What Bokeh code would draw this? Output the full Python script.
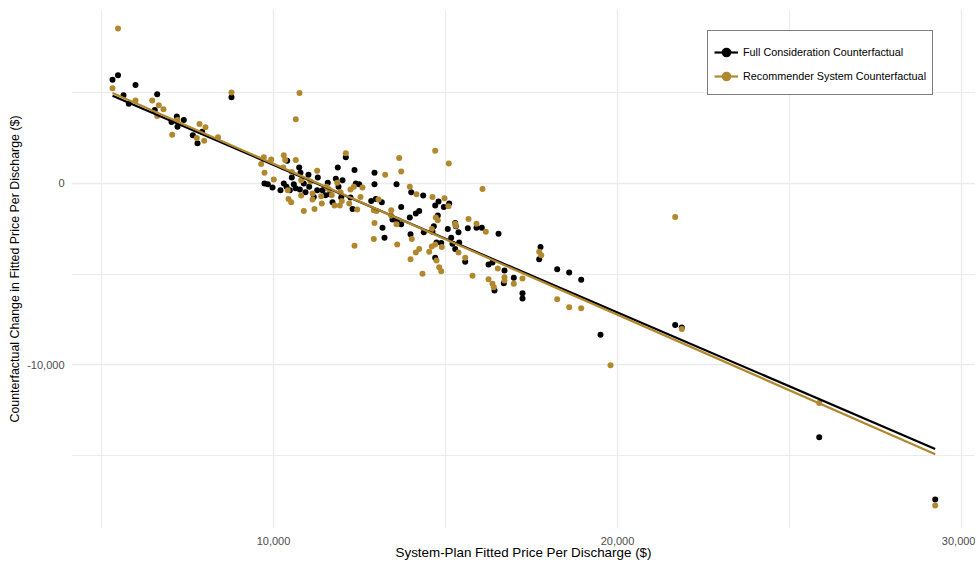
import numpy as np
from bokeh.plotting import figure
from bokeh.models import (ColumnDataSource, Range1d, FixedTicker, NumeralTickFormatter,
                          Legend, LegendItem)
from bokeh.embed import file_html
from bokeh.resources import INLINE

# ---------------- data ----------------
series_names = ["Full Consideration Counterfactual", "Recommender System Counterfactual"]
series_colors = ["#000000", "#B2882F"]

full_x = [5320, 5480, 5988, 5640, 5793, 6619, 6549, 7189, 7035, 7209, 7392, 7654, 7791, 7927, 8779,
          9738, 9834, 9971, 10398, 10747, 10532, 10299, 10378, 10474, 10590, 10785, 10881, 10765,
          11017, 11038, 11172, 11288, 11270, 11578, 11637, 11715, 11811, 11890, 11968, 11869, 12102,
          12355, 12006, 12238, 12297, 12392, 12491, 12936, 12974, 12840, 10203, 10640, 10930, 11425,
          11512, 12936, 13576, 14003, 14352, 14797, 15107, 14701, 13148, 13712, 14235, 14137, 13962,
          14776, 15282, 15649, 15901, 16055, 13169, 13459, 13596, 13712, 13227, 13983, 14369, 14660,
          14738, 14701, 14951, 15300, 15067, 15378, 16541, 15166, 15398, 15203, 15282, 14875, 14622,
          15573, 16251, 16366, 16715, 16695, 16424, 16986, 17238, 17238, 17762, 17724, 18247, 18596,
          18945, 19506, 21677, 21869, 25864, 29236]
full_y = [5691, 5939, 5398, 4845, 4365, 4890, 4033, 3663, 3370, 3111, 3481, 2635, 2193, 2834, 4735,
          -17, -55, -238, 1232, 867, 315, -17, -204, -387, -55, 569, -17, -348,
          459, -204, -757, 315, -387, 17, -608, -1050, 238, -204, -790, 867, 1420,
          718, 166, -790, -1420, -17, -55, 569, -867, -978, -387, -276, -497, -387,
          -663, -55, -55, -497, -680, -1011, -1122, -1232, -1050, -1309, -1530, -1674, -1895,
          -1785, -2193, -2486, -2448, -2448, -2448, -2006, -2044, -2265, -3000, -2818, -2707, -2376,
          -3260, -4105, -1309, -2376, -2525, -2707, -2779, -3000, -3260, -3332, -3630, -3298, -2669,
          -4326, -4476, -4365, -4807, -5508, -5912, -5210, -6061, -6354, -3519, -4183, -4735, -4917,
          -5321, -8343, -7807, -7939, -13978, -17404]

rec_x = [5480, 5320, 5988, 6474, 6666, 6802, 6619, 7209, 7055, 7849, 8023, 7770, 7985, 8387, 8779,
         9718, 9642, 9738, 9933, 10009, 10299, 10340, 10648, 10282, 10532, 10416, 10436, 10515, 10805,
         10805, 10881, 11076, 11134, 11134, 11192, 11270, 11387, 11404, 11541, 11619, 11695, 11773,
         11852, 11948, 11985, 11927, 12102, 12238, 12200, 12433, 12529, 12334, 12587, 13052, 12994,
         12936, 10756, 10648, 14701, 15096, 13654, 13712, 13247, 16076, 13962, 14157, 14622, 14971,
         15087, 12916, 13422, 14718, 14776, 15669, 15300, 15901, 13576, 13422, 12916, 12355, 13596,
         14020, 14602, 14701, 14602, 14235, 14137, 13983, 14738, 14817, 14875, 14331, 14526, 14893,
         15282, 16172, 15378, 15573, 15785, 16520, 16715, 16715, 16251, 16366, 16404, 16986, 17238,
         17724, 17782, 18247, 18596, 18945, 19797, 21677, 21869, 25864, 29236]
rec_y = [8509, 5221, 4547, 4547, 4293, 4072, 3702, 3481, 2669, 3260, 3077, 2486, 2337, 2525, 4989,
         1420, 1050, 569, 1309, 204, 1530, 1271, 1271, 867, 608, -387, -867, -1050, 166,
         -680, -1530, 94, -569, -901, -1420, 680, -718, -1122, -204, -348, -646, -1232,
         17, -497, -978, -1232, 1641, -348, -1122, -1453, -757, -204, -238, -901, -1530,
         -2193, 4956, 3519, 1785, 1088, 1381, 646, 459, -315, -204, -608, -757, -829,
         -1271, -1492, -1492, -1895, -2044, -1972, -2337, -2227, -2265, -1785, -3077, -3442, -3370,
         -3077, -2525, -3370, -3481, -3630, -3812, -4183, -4254, -4624, -4845, -4989, -3774, -3519,
         -2227, -2669, -3812, -4105, -5100, -4696, -5177, -5359, -5287, -5542, -5729, -5542, -5249,
         -3774, -3961, -6392, -6834, -6889, -10017, -1862, -8028, -12100, -17735]

# fitted linear trend lines (endpoints)
fit_x = [5320, 29236]
full_fit_y = [4807, -14625]
rec_fit_y = [4956, -14918]

x_ticks = [10000, 20000, 30000]
x_minor = [5000, 15000, 25000]
y_ticks = [0, -10000]
y_minor = [5000, -5000, -15000]

x_title = "System-Plan Fitted Price Per Discharge ($)"
y_title = "Counterfactual Change in Fitted Price Per Discharge ($)"

FONT = "Liberation Sans"

p = figure(width=975, height=562, x_range=Range1d(4128, 30407), y_range=Range1d(-19006, 9558),
           output_backend="svg", toolbar_location=None,
           min_border_left=71, min_border_right=0, min_border_top=9, min_border_bottom=20)
p.outline_line_color = None
p.background_fill_color = "white"
p.border_fill_color = "white"

for ax, ticks, minor in ((p.xaxis[0], x_ticks, x_minor), (p.yaxis[0], y_ticks, y_minor)):
    ax.ticker = FixedTicker(ticks=ticks, minor_ticks=minor)
    ax.formatter = NumeralTickFormatter(format="0,0")
    ax.axis_line_color = None
    ax.major_tick_line_color = None
    ax.minor_tick_line_color = None
    ax.major_label_text_font = FONT
    ax.major_label_text_font_size = "11px"
    ax.major_label_text_color = "#4D4D4D"
    ax.axis_label_text_font = FONT
    ax.axis_label_text_font_style = "normal"
    ax.axis_label_text_color = "#000000"

p.xaxis.axis_label = x_title
p.xaxis.axis_label_text_font_size = "13.4px"
p.xaxis.major_label_standoff = 2
p.xaxis.axis_label_standoff = -3
p.yaxis.axis_label = y_title
p.yaxis.axis_label_text_font_size = "12.4px"
p.yaxis.major_label_standoff = 1
p.yaxis.axis_label_standoff = 2

for g in (p.xgrid[0], p.ygrid[0]):
    g.grid_line_color = "#EBEBEB"
    g.grid_line_width = 1.3
    g.minor_grid_line_color = "#EBEBEB"
    g.minor_grid_line_width = 1.0

src_full = ColumnDataSource(dict(x=full_x, y=full_y))
src_rec = ColumnDataSource(dict(x=rec_x, y=rec_y))
r_full = p.scatter("x", "y", source=src_full, size=6, fill_color=series_colors[0], line_color=None)
r_rec = p.scatter("x", "y", source=src_rec, size=6, fill_color=series_colors[1], line_color=None)

l_full = p.line("x", "y", source=ColumnDataSource(dict(x=fit_x, y=full_fit_y)),
                line_color=series_colors[0], line_width=2.2)
l_rec = p.line("x", "y", source=ColumnDataSource(dict(x=fit_x, y=rec_fit_y)),
               line_color=series_colors[1], line_width=2.2)

# empty renderer used only to draw the thin frame around each legend key
key_frame = p.quad(left=[], right=[], top=[], bottom=[], fill_alpha=0,
                   line_color="#333333", line_width=1)

legend = Legend(items=[LegendItem(label=series_names[0], renderers=[key_frame, r_full, l_full]),
                       LegendItem(label=series_names[1], renderers=[key_frame, r_rec, l_rec])],
                location=(636, 433), orientation="vertical",
                border_line_color="black", border_line_width=1,
                background_fill_color="white", background_fill_alpha=1.0,
                padding=6, spacing=0, margin=0,
                glyph_width=24, glyph_height=24, label_height=22, label_standoff=5,
                label_text_font=FONT, label_text_font_size="10.8px", label_text_color="#000000",
                title=" ", title_text_font_size="2px", title_standoff=1)
p.add_layout(legend)

open("out.html", "w").write(file_html(p, INLINE))
